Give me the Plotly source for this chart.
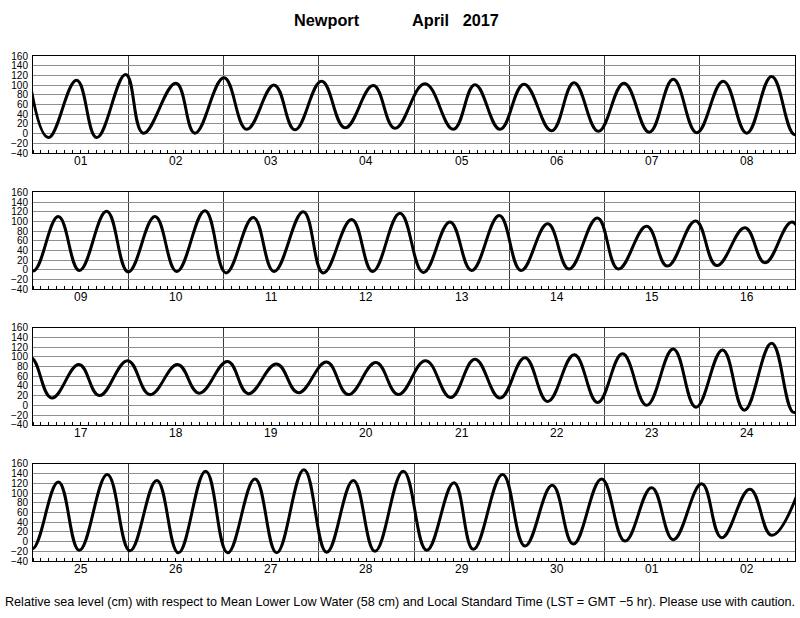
import plotly.graph_objects as go

# ---- data (time in days since 1 April 2017 00:00 LST, height in cm) ----
tide_days = [
    -0.04, 0.161, 0.458, 0.668, 0.973, 1.158, 1.501, 1.70, 2.005, 2.243, 2.533, 2.75,
    3.03, 3.276, 3.573, 3.80, 4.115, 4.413, 4.64, 4.903, 5.155, 5.445, 5.68, 5.935,
    6.205, 6.47, 6.722, 6.968, 7.247, 7.493, 7.755, 8.0,
    8.266, 8.487, 8.773, 9.0, 9.281, 9.509, 9.806, 10.026, 10.313, 10.53, 10.838, 11.048,
    11.346, 11.566, 11.853, 12.098, 12.378, 12.605, 12.896, 13.123, 13.404, 13.627,
    13.925, 14.145, 14.443, 14.66, 14.957, 15.178, 15.475, 15.685, 15.97,
    16.196, 16.483, 16.696, 16.994, 17.228, 17.519, 17.743, 18.044, 18.26, 18.558, 18.786,
    19.083, 19.31, 19.601, 19.835, 20.123, 20.385, 20.64, 20.903, 21.165, 21.404, 21.683,
    21.928, 22.19, 22.443, 22.722, 22.96, 23.24, 23.468, 23.755, 23.99,
    24.266, 24.486, 24.78, 25.018, 25.3, 25.526, 25.813, 26.044, 26.331, 26.558, 26.845,
    27.083, 27.363, 27.59, 27.888, 28.133, 28.42, 28.623, 28.93, 29.165, 29.452, 29.673,
    29.97, 30.215, 30.495, 30.722, 31.02, 31.23, 31.527, 31.755, 32.05,
]
tide_cm = [
    116, -8, 110, -8, 122, 1, 104, 1, 115, 9, 100, 8,
    108, 12, 99, 11, 103, 9, 101, 9, 102, 6, 105, 5,
    104, 3, 112, 2, 108, 1, 118, -2,
    110, -1, 121, -4, 110, -3, 122, -6, 108, -3, 120, -6,
    104, -3, 117, -5, 99, -1, 112, -1, 95, 2,
    107, 2, 90, 8, 101, 9, 87, 15, 99,
    15, 84, 20, 92, 22, 84, 25, 90, 24, 85, 26,
    89, 22, 88, 22, 92, 16, 95, 15, 98, 8, 104,
    6, 106, 0, 116, -4, 114, -10, 128, -15,
    123, -18, 138, -19, 126, -23, 145, -23, 129, -23, 148,
    -22, 126, -20, 145, -18, 121, -16, 138, -9, 116, -5,
    129, 1, 111, 4, 119, 8, 108, 13, 110,
]
day_labels = ["01", "02", "03", "04", "05", "06", "07", "08",
              "09", "10", "11", "12", "13", "14", "15", "16",
              "17", "18", "19", "20", "21", "22", "23", "24",
              "25", "26", "27", "28", "29", "30", "01", "02"]
y_tick_values = [-40, -20, 0, 20, 40, 60, 80, 100, 120, 140, 160]
y_tick_labels = ["\u221240", "\u221220", "0", "20", "40", "60", "80", "100", "120", "140", "160"]
title_station = "Newport"
title_month = "April   2017"
footer = ("Relative sea level (cm) with respect to Mean Lower Low Water (58 cm) and "
          "Local Standard Time (LST = GMT \u22125 hr). Please use with caution.")

DAYS_PER_PANEL = 8
N_PANELS = 4
FONT = "Liberation Sans, Arial, Helvetica, sans-serif"

hours = [d * 24 for d in tide_days]

# panel vertical extents in pixels (top, bottom) of a 618 px tall page
H = 618
panel_px = [(51, 150), (190, 289), (328, 427), (467, 566)]

fig = go.Figure()
layout = dict(
    width=800, height=618,
    margin=dict(l=0, r=0, t=0, b=0),
    paper_bgcolor="white", plot_bgcolor="white",
    showlegend=False,
    font=dict(family=FONT, color="black"),
)
annotations = []

for p in range(N_PANELS):
    sfx = "" if p == 0 else str(p + 1)
    x0 = p * DAYS_PER_PANEL * 24
    x1 = x0 + DAYS_PER_PANEL * 24
    fig.add_trace(go.Scatter(
        x=hours, y=tide_cm, mode="lines",
        line=dict(color="black", width=3, shape="spline", smoothing=1.2),
        xaxis="x" + sfx, yaxis="y" + sfx, hoverinfo="skip",
    ))
    top, bot = panel_px[p]
    layout["xaxis" + sfx] = dict(
        domain=[33 / 800, 795 / 800], anchor="y" + sfx, range=[x0, x1],
        tickmode="array", tickvals=list(range(x0, x1 + 1, 24)),
        ticktext=[""] * (DAYS_PER_PANEL + 1),
        showgrid=True, gridcolor="#3a3a3a", gridwidth=1,
        ticks="", showline=True, linecolor="black", linewidth=1, mirror=True,
        zeroline=False,
        minor=dict(tickmode="linear", tick0=0, dtick=2, ticks="inside", ticklen=3,
                   tickcolor="black", tickwidth=1, showgrid=False),
    )
    layout["yaxis" + sfx] = dict(
        domain=[1 - bot / H, 1 - top / H], anchor="x" + sfx, range=[-40, 160],
        tickmode="array", tickvals=y_tick_values, ticktext=y_tick_labels,
        showgrid=True, gridcolor="#8f8f8f", gridwidth=1, zeroline=False,
        ticks="", showline=True, linecolor="black", linewidth=1, mirror=True,
        tickfont=dict(size=10, family=FONT, color="black"),
        ticklabelstandoff=2,
    )
    for i in range(DAYS_PER_PANEL):
        annotations.append(dict(
            x=x0 + 24 * i + 12, xref="x" + sfx,
            y=-8.0 / (bot - top), yref="y" + sfx + " domain",
            text=day_labels[p * DAYS_PER_PANEL + i], showarrow=False,
            xanchor="center", yanchor="middle",
            font=dict(size=12, family=FONT, color="black"),
        ))

annotations.append(dict(x=292 / 800, y=1 - 14 / H, xref="paper", yref="paper",
                        text="<b>" + title_station + "</b>", showarrow=False,
                        xanchor="left", yanchor="middle",
                        font=dict(size=16.3, family=FONT, color="black")))
annotations.append(dict(x=410 / 800, y=1 - 14 / H, xref="paper", yref="paper",
                        text="<b>" + title_month.replace(" ", "&nbsp;") + "</b>", showarrow=False,
                        xanchor="left", yanchor="middle",
                        font=dict(size=16.3, family=FONT, color="black")))
annotations.append(dict(x=400 / 800, y=1 - 608 / H, xref="paper", yref="paper",
                        text=footer, showarrow=False,
                        xanchor="center", yanchor="middle",
                        font=dict(size=12.6, family=FONT, color="black")))
layout["annotations"] = annotations
fig.update_layout(**layout)
fig.write_html("out.html", config={"displayModeBar": False},
               post_script="document.body.style.margin='0';")
